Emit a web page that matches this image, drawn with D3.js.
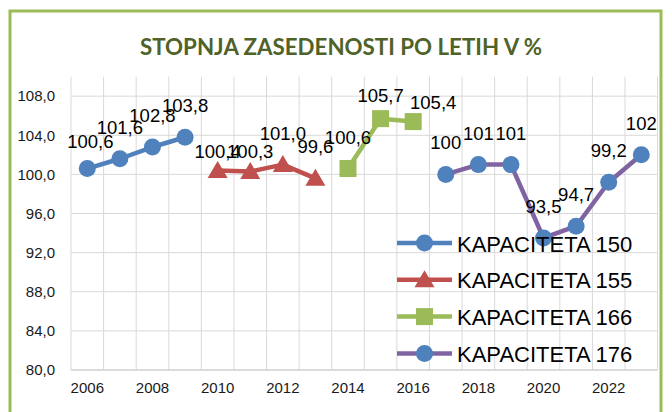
<!DOCTYPE html>
<html>
<head>
<meta charset="utf-8">
<script src="https://cdn.jsdelivr.net/npm/d3@7"></script>
<style>
  body { margin: 0; background: #fff; }
  svg { display: block; }
  .axis text { font-family: "Liberation Sans", Arial, sans-serif; font-size: 15px; fill: #1a1a1a; }
  .lbl { font-family: "Liberation Sans", Arial, sans-serif; font-size: 18.5px; fill: #000; }
  .legend text { font-family: "Liberation Sans", Arial, sans-serif; font-size: 22px; fill: #000; }
</style>
</head>
<body>
<div id="chart"></div>
<script>
// data
const years = d3.range(2006, 2024).map(String);
const yTicks = [80, 84, 88, 92, 96, 100, 104, 108];
const xTickLabels = ["2006", "2008", "2010", "2012", "2014", "2016", "2018", "2020", "2022"];

const kap150 = [["2006", 100.6, "100,6"], ["2007", 101.6, "101,6"], ["2008", 102.8, "102,8"], ["2009", 103.8, "103,8"]];
const kap155 = [["2010", 100.4, "100,4"], ["2011", 100.3, "100,3"], ["2012", 101.0, "101,0"], ["2013", 99.6, "99,6"]];
const kap166 = [["2014", 100.6, "100,6"], ["2015", 105.7, "105,7"], ["2016", 105.4, "105,4"]];
const kap176 = [["2017", 100, "100"], ["2018", 101, "101"], ["2019", 101, "101"], ["2020", 93.5, "93,5"],
                ["2021", 94.7, "94,7"], ["2022", 99.2, "99,2"], ["2023", 102, "102"]];

const series = [
  { name: "KAPACITETA 150", data: kap150, line: "#4f81bd", mark: "#4f81bd", shape: "circle" },
  { name: "KAPACITETA 155", data: kap155, line: "#c0504d", mark: "#c0504d", shape: "triangle" },
  { name: "KAPACITETA 166", data: kap166, line: "#9bbb59", mark: "#9bbb59", shape: "square" },
  { name: "KAPACITETA 176", data: kap176, line: "#8064a2", mark: "#4f81bd", shape: "circle" }
];

// data label nudges (excel moved a few of them)
const nudge = { "2006": [3, 4], "2010": [0, 13], "2011": [0, 12], "2015": [0, 8], "2016": [20, 12] };

const W = 672, H = 412;
const svg = d3.select("#chart").append("svg").attr("width", W).attr("height", H);

svg.append("rect")
  .attr("x", 10).attr("y", 11).attr("width", 651).attr("height", 430)
  .attr("fill", "#fff").attr("stroke", "#9bbb59").attr("stroke-width", 3);

svg.append("text")
  .attr("x", 341).attr("y", 55)
  .attr("text-anchor", "middle")
  .attr("font-family", "Lato, 'Open Sans', sans-serif")
  .attr("font-weight", "bold")
  .attr("font-size", 22)
  .attr("fill", "#4f6228")
  .attr("textLength", 402)
  .attr("lengthAdjust", "spacingAndGlyphs")
  .text("STOPNJA ZASEDENOSTI PO LETIH V %");

const x = d3.scaleBand().domain(years).range([71, 657.6]);
const y = d3.scaleLinear().domain([80, 110]).range([370, 76.6]);
const cx = d => x(d[0]) + x.bandwidth() / 2;
const cy = d => y(d[1]);

const fmt = d3.formatLocale({ decimal: ",", thousands: ".", grouping: [3], currency: ["", ""] }).format(".1f");

// grid
const grid = svg.append("g");
grid.selectAll("line.h").data(yTicks.slice(1)).join("line")
  .attr("x1", 71).attr("x2", 657.6)
  .attr("y1", d => y(d)).attr("y2", d => y(d))
  .attr("stroke", "#d9d9d9").attr("stroke-width", 1);
grid.selectAll("line.v").data(years.concat(["end"])).join("line")
  .attr("x1", (d, i) => 71 + i * x.step()).attr("x2", (d, i) => 71 + i * x.step())
  .attr("y1", y(110)).attr("y2", y(80))
  .attr("stroke", "#d9d9d9").attr("stroke-width", 1);
grid.append("line")
  .attr("x1", 71).attr("x2", 657.6).attr("y1", y(80)).attr("y2", y(80))
  .attr("stroke", "#d0d0d0").attr("stroke-width", 1.3);

// axes
svg.append("g")
  .attr("class", "axis")
  .attr("transform", "translate(71,0)")
  .call(d3.axisLeft(y).tickValues(yTicks).tickFormat(fmt).tickSize(0).tickPadding(16))
  .call(g => g.select(".domain").remove());

svg.append("g")
  .attr("class", "axis")
  .attr("transform", "translate(0,370)")
  .call(d3.axisBottom(x).tickValues(xTickLabels).tickSize(0).tickPadding(12))
  .call(g => g.select(".domain").remove());

function marker(sel, shape, color) {
  if (shape === "circle") {
    sel.append("circle").attr("r", 8.5).attr("fill", color);
  } else if (shape === "triangle") {
    sel.append("path").attr("d", "M0,-9.5L10,7.5L-10,7.5Z").attr("fill", color);
  } else {
    sel.append("rect").attr("x", -8.5).attr("y", -8.5).attr("width", 17).attr("height", 17).attr("fill", color);
  }
}

const line = d3.line().x(cx).y(cy);

series.forEach(s => {
  svg.append("path")
    .datum(s.data)
    .attr("fill", "none")
    .attr("stroke", s.line)
    .attr("stroke-width", 4.5)
    .attr("stroke-linejoin", "round")
    .attr("d", line);

  svg.append("g").selectAll("g")
    .data(s.data)
    .join("g")
    .attr("transform", d => `translate(${cx(d)},${cy(d)})`)
    .each(function() { marker(d3.select(this), s.shape, s.mark); });
});

// data labels
series.forEach(s => {
  svg.append("g").selectAll("text")
    .data(s.data)
    .join("text")
    .attr("class", "lbl")
    .attr("text-anchor", "middle")
    .attr("x", d => cx(d) + (nudge[d[0]] ? nudge[d[0]][0] : 0))
    .attr("y", d => cy(d) - 25 + (nudge[d[0]] ? nudge[d[0]][1] : 0))
    .text(d => d[2]);
});

// legend
const legend = svg.append("g").attr("class", "legend");
const rows = legend.selectAll("g").data(series).join("g")
  .attr("transform", (d, i) => `translate(397,${243 + i * 36.8})`);
rows.append("line")
  .attr("x1", 0).attr("x2", 55)
  .attr("stroke", d => d.line).attr("stroke-width", 4.5);
rows.append("g")
  .attr("transform", "translate(27.5,0)")
  .each(function(d) { marker(d3.select(this), d.shape, d.mark); });
rows.append("text")
  .attr("x", 60).attr("y", 8.5)
  .text(d => d.name);
</script>
</body>
</html>
